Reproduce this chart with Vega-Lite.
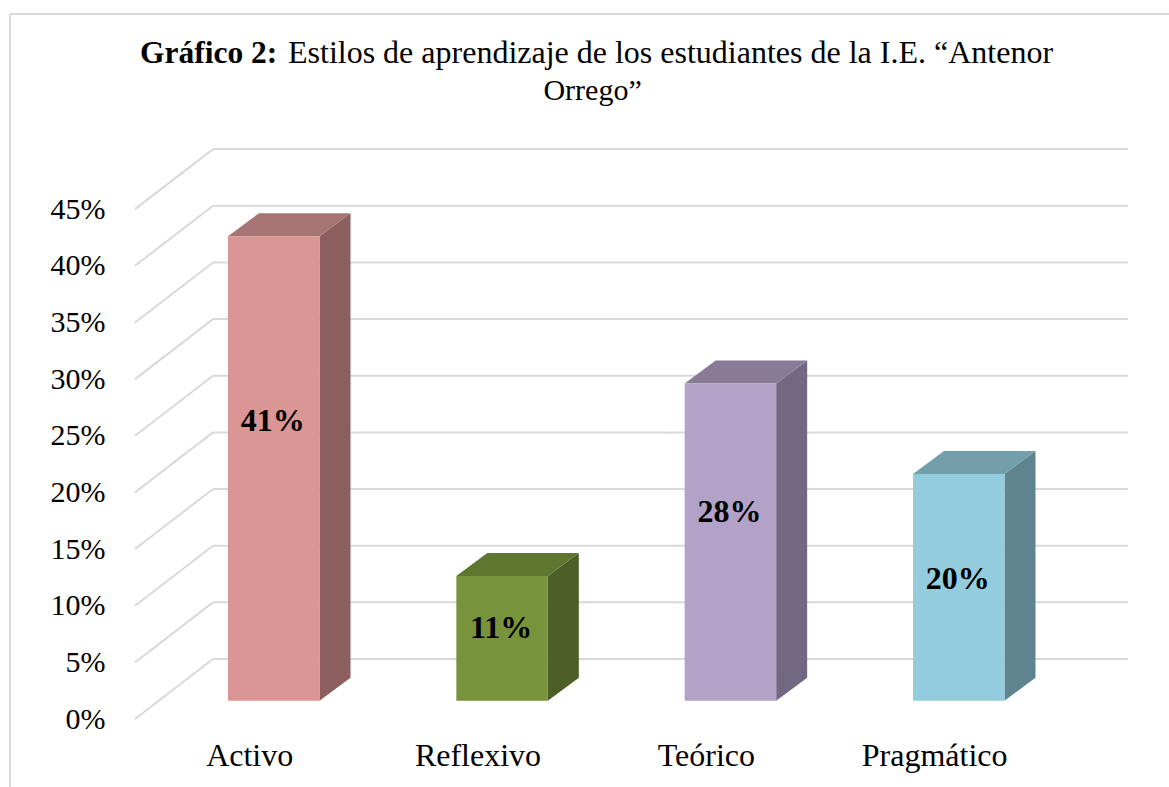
{
"$schema":"https://vega.github.io/schema/vega-lite/v6.json",
"width":1159,"height":773,
"autosize":{"type":"none"},
"padding":{"left":10,"top":14,"right":0,"bottom":0},
"background":"white",
"view":{"stroke":null},
"datasets":{
"estilos":[
{"estilo":"Activo","valor":41,"orden":0},
{"estilo":"Reflexivo","valor":11,"orden":1},
{"estilo":"Teórico","valor":28,"orden":2},
{"estilo":"Pragmático","valor":20,"orden":3}],
"niveles":[{"pct":0},{"pct":5},{"pct":10},{"pct":15},{"pct":20},{"pct":25},{"pct":30},{"pct":35},{"pct":40},{"pct":45}]
},
"layer":[
{"data":{"name":"niveles"},
"transform":[{"calculate":"datum.pct+5.295","as":"yb"},{"calculate":"0.3416","as":"xa"},{"calculate":"4.349","as":"xb"}],
"mark":{"type":"rule","color":"#D9D9D9","strokeWidth":2},
"encoding":{
"x":{"field":"xa","type":"quantitative","scale":{"domain":[-0.5475,4.5285],"nice":false,"zero":false},"title":null,
"axis":{"orient":"bottom","offset":-47,"values":[0.5,1.5,2.5,3.5],"labelExpr":"['Activo','Reflexivo','Teórico','Pragmático'][round(datum.value-0.5)]","domain":false,"ticks":false,"grid":false,"labelFontSize":32,"labelFont":"Liberation Serif","labelColor":"#000000","labelPadding":0,"labelOverlap":false,"labelFlush":false}},
"x2":{"field":"xb"},
"y":{"field":"yb","type":"quantitative","scale":{"domain":[-6,62.22],"nice":false,"zero":false},"title":null,
"axis":{"orient":"left","offset":-95,"values":[0,5,10,15,20,25,30,35,40,45],"labelExpr":"datum.value+'%'","domain":false,"ticks":false,"grid":false,"labelFontSize":30,"labelFont":"Liberation Serif","labelColor":"#000000","labelPadding":0,"labelOffset":0,"labelOverlap":false,"labelFlush":false}}
}},
{"data":{"name":"niveles"},
"transform":[{"calculate":"datum.pct+5.295","as":"yb"},{"calculate":"0","as":"xa"},{"calculate":"0.3416","as":"xb"}],
"mark":{"type":"rule","color":"#D9D9D9","strokeWidth":2},
"encoding":{
"x":{"field":"xa","type":"quantitative"},
"x2":{"field":"xb"},
"y":{"field":"pct","type":"quantitative"},
"y2":{"field":"yb"}
}},
{"data":{"values":[{"xa":-0.5475,"xb":-0.5475,"ya":62.22,"yb":-6},{"xa":-0.5475,"xb":4.5285,"ya":62.22,"yb":62.22}]},
"mark":{"type":"rule","color":"#D9D9D9","strokeWidth":2},
"encoding":{"x":{"field":"xa","type":"quantitative"},"x2":{"field":"xb"},"y":{"field":"ya","type":"quantitative"},"y2":{"field":"yb"}}},
{"data":{"name":"estilos"},
"transform":[
{"calculate":"[0,1]","as":"t"},{"flatten":["t"]},
{"calculate":"datum.orden+0.8080+datum.t*0.1358","as":"px"},
{"calculate":"1.615+datum.t*2.03","as":"y0"},
{"calculate":"datum.y0+datum.valor","as":"y1"},
{"calculate":"datum.estilo+' lado'","as":"cara"}],
"mark":{"type":"area","interpolate":"linear","orient":"vertical"},
"encoding":{
"x":{"field":"px","type":"quantitative"},
"y":{"field":"y1","type":"quantitative"},
"y2":{"field":"y0"},
"detail":{"field":"estilo"},
"color":{"field":"cara","type":"nominal","legend":null}
}},
{"data":{"name":"estilos"},
"transform":[
{"calculate":"[0,0.1358,0.4007,0.5365]","as":"t"},{"flatten":["t"]},
{"calculate":"datum.orden+0.4073+datum.t","as":"px"},
{"calculate":"1.615+datum.valor+(datum.t>0.5?2.03:0)","as":"yl"},
{"calculate":"1.615+datum.valor+(datum.t==0?0:2.03)","as":"yu"},
{"calculate":"datum.estilo+' tapa'","as":"cara"}],
"mark":{"type":"area","interpolate":"linear","orient":"vertical"},
"encoding":{
"x":{"field":"px","type":"quantitative"},
"y":{"field":"yu","type":"quantitative"},
"y2":{"field":"yl"},
"detail":{"field":"estilo"},
"color":{"field":"cara","type":"nominal","legend":null}
}},
{"data":{"name":"estilos"},
"transform":[
{"calculate":"datum.orden+0.4073","as":"x0"},
{"calculate":"datum.orden+0.8080","as":"x1"},
{"calculate":"1.615","as":"y0"},
{"calculate":"1.615+datum.valor","as":"y1"},
{"calculate":"datum.estilo+' frente'","as":"cara"}],
"mark":{"type":"rect"},
"encoding":{
"x":{"field":"x0","type":"quantitative"},
"x2":{"field":"x1"},
"y":{"field":"y1","type":"quantitative"},
"y2":{"field":"y0"},
"color":{"field":"cara","type":"nominal","legend":null,
"scale":{"domain":["Activo frente","Activo lado","Activo tapa","Reflexivo frente","Reflexivo lado","Reflexivo tapa","Teórico frente","Teórico lado","Teórico tapa","Pragmático frente","Pragmático lado","Pragmático tapa"],
"range":["#D99694","#8C5F5E","#A67472","#77933C","#4D5F27","#5F7630","#B3A2C7","#736882","#877B96","#93CDDD","#5F848F","#739FAC"]}}
}},
{"data":{"name":"estilos"},
"transform":[
{"calculate":"datum.orden+0.6035","as":"px"},
{"calculate":"{'Activo':26.3,'Reflexivo':8.05,'Teórico':18.3,'Pragmático':12.4}[datum.estilo]","as":"py"},
{"calculate":"datum.valor+'%'","as":"etiqueta"}],
"mark":{"type":"text","fontSize":32,"fontWeight":"bold","font":"Liberation Serif","color":"#000000","align":"center","baseline":"middle"},
"encoding":{
"x":{"field":"px","type":"quantitative"},
"y":{"field":"py","type":"quantitative"},
"text":{"field":"etiqueta"}
}},
{"data":{"values":[{"texto":"Gráfico 2:","px":0.022,"py":57.9}]},
"mark":{"type":"text","fontSize":31.5,"fontWeight":"bold","font":"Liberation Serif","color":"#000000","align":"left","baseline":"alphabetic"},
"encoding":{"x":{"field":"px","type":"quantitative"},"y":{"field":"py","type":"quantitative"},"text":{"field":"texto"}}},
{"data":{"values":[{"texto":"Estilos de aprendizaje de los estudiantes de la I.E. “Antenor","px":0.67,"py":57.9}]},
"mark":{"type":"text","fontSize":32,"font":"Liberation Serif","color":"#000000","align":"left","baseline":"alphabetic"},
"encoding":{"x":{"field":"px","type":"quantitative"},"y":{"field":"py","type":"quantitative"},"text":{"field":"texto"}}},
{"data":{"values":[{"texto":"Orrego”","px":2.004,"py":54.6}]},
"mark":{"type":"text","fontSize":30,"font":"Liberation Serif","color":"#000000","align":"center","baseline":"alphabetic"},
"encoding":{"x":{"field":"px","type":"quantitative"},"y":{"field":"py","type":"quantitative"},"text":{"field":"texto"}}}
]
}
